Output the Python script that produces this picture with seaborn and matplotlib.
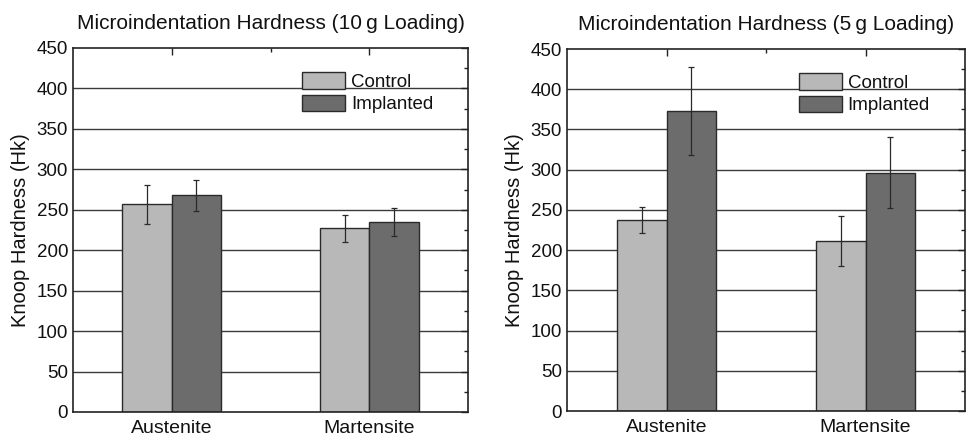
import matplotlib
matplotlib.use("Agg")
import matplotlib.pyplot as plt
from matplotlib.ticker import MultipleLocator, FixedLocator
import seaborn as sns
import pandas as pd
import numpy as np

phases = ["Austenite", "Martensite"]
groups = ["Control", "Implanted"]

titles = ["Microindentation Hardness (10\u2009g Loading)", "Microindentation Hardness (5\u2009g Loading)"]

# 10 g loading
control_10 = [257, 227]
implanted_10 = [268, 235]
control_10_err = [24, 17]
implanted_10_err = [19, 17]

# 5 g loading
control_5 = [237, 211]
implanted_5 = [373, 296]
control_5_err = [16, 31]
implanted_5_err = [55, 44]

ylabel = "Knoop Hardness (Hk)"
colors = {"Control": "#b8b8b8", "Implanted": "#6c6c6c"}

sns.set_theme(style="white")
plt.rcParams["font.family"] = ["Liberation Sans", "DejaVu Sans"]

fig = plt.figure(figsize=(9.67, 4.43), dpi=100)
W, H = 967, 443
ax1 = fig.add_axes([73 / W, (H - 412) / H, (468 - 73) / W, (412 - 48) / H])
ax2 = fig.add_axes([567 / W, (H - 411) / H, (965 - 567) / W, (411 - 49) / H])

datasets = [
    (control_10, implanted_10, control_10_err, implanted_10_err),
    (control_5, implanted_5, control_5_err, implanted_5_err),
]

for ax, title, (c, i, ce, ie) in zip([ax1, ax2], titles, datasets):
    df = pd.DataFrame({
        "phase": phases * 2,
        "group": ["Control"] * 2 + ["Implanted"] * 2,
        "value": c + i,
        "err": ce + ie,
    })
    for y in range(50, 450, 50):
        ax.axhline(y, color="#3a3a3a", lw=1.0, zorder=0)
    sns.barplot(data=df, x="phase", y="value", hue="group", order=phases,
                hue_order=groups, palette=colors, width=0.5, errorbar=None,
                edgecolor="#2a2a2a", linewidth=1.0, ax=ax, zorder=2,
                saturation=1)
    # error bars located on the seaborn bar patches
    for container, grp in zip(ax.containers, groups):
        sub = df[df.group == grp].set_index("phase").loc[phases]
        xs = [p.get_x() + p.get_width() / 2 for p in container.patches]
        hs = [p.get_height() for p in container.patches]
        ax.errorbar(xs, hs, yerr=sub["err"].values, fmt="none",
                    ecolor="#2a2a2a", elinewidth=0.9, capsize=2.5,
                    capthick=0.9, zorder=3)
    ax.set_xlim(-0.5, 1.5)
    ax.set_ylim(0, 450)
    ax.yaxis.set_major_locator(MultipleLocator(50))
    ax.yaxis.set_minor_locator(MultipleLocator(25))
    ax.xaxis.set_minor_locator(FixedLocator([0.5]))
    ax.tick_params(axis="both", which="both", direction="in", top=True,
                   right=True, colors="#222222", labelcolor="#111111")
    ax.tick_params(axis="both", which="major", length=5, width=1.0, labelsize=13.5)
    ax.tick_params(axis="x", which="major", labelsize=14, pad=6)
    ax.tick_params(axis="both", which="minor", length=3, width=1.0)
    ax.set_xlabel("")
    ax.set_ylabel(ylabel, fontsize=14.5, color="#111111", labelpad=5)
    ax.set_title(title, fontsize=15, color="#111111", pad=14)
    for s in ax.spines.values():
        s.set_color("#222222")
        s.set_linewidth(1.2)
        s.set_visible(True)
    leg = ax.legend(loc="upper right", bbox_to_anchor=(0.945, 0.97), frameon=False,
                    fontsize=13.5, handlelength=2.3, handleheight=1.0,
                    handletextpad=0.3, labelspacing=0.2, borderpad=0.2)
    for t in leg.get_texts():
        t.set_color("#111111")

fig.savefig("out.png", dpi=100)
